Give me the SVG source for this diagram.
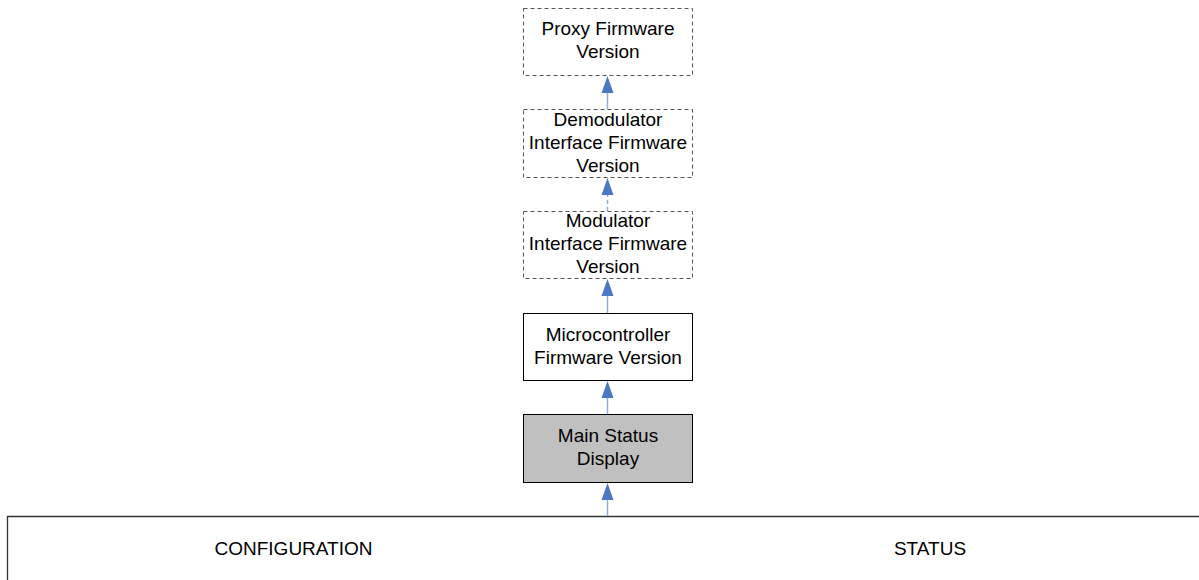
<svg xmlns="http://www.w3.org/2000/svg" width="1199" height="580" viewBox="0 0 1199 580">
<style>
.box{fill:#fff;stroke:#000;stroke-width:1}
.dash{stroke:#555;stroke-dasharray:4 3}
.grey{fill:#c0c0c0}
.t{font-family:"Liberation Sans",Arial,sans-serif;font-size:19px;fill:#000;text-anchor:middle}
.c{stroke:#8eaee0;stroke-width:1.5;fill:none}
.cd{stroke-dasharray:4 3}
.ah{fill:#4a78c4}
</style>
<rect width="1199" height="580" fill="#fff"/>
<g id="frame">
<path d="M7.5,580 V516.5 H1199" fill="none" stroke="#333" stroke-width="1.3"/>
<text class="t" x="293.5" y="555">CONFIGURATION</text>
<text class="t" x="930" y="555">STATUS</text>
</g>
<g id="connectors">
<line class="c" x1="607.5" y1="516" x2="607.5" y2="496"/>
<polygon class="ah" points="607.5,483 601.5,500 613.5,500"/>
<line class="c" x1="607.5" y1="414" x2="607.5" y2="395"/>
<polygon class="ah" points="607.5,381 601.5,398 613.5,398"/>
<line class="c" x1="607.5" y1="313" x2="607.5" y2="293"/>
<polygon class="ah" points="607.5,279 601.5,296 613.5,296"/>
<line class="c cd" x1="607.5" y1="211" x2="607.5" y2="192"/>
<polygon class="ah" points="607.5,178 601.5,195 613.5,195"/>
<line class="c" x1="607.5" y1="109" x2="607.5" y2="90"/>
<polygon class="ah" points="607.5,76 601.5,93 613.5,93"/>
</g>
<g id="proxy">
<rect class="box dash" x="523.5" y="8.5" width="169" height="67"/>
<text class="t" x="608" y="35">Proxy Firmware</text>
<text class="t" x="608" y="58">Version</text>
</g>
<g id="demod">
<rect class="box dash" x="523.5" y="109.5" width="169" height="68"/>
<text class="t" x="608" y="126">Demodulator</text>
<text class="t" x="608" y="149">Interface Firmware</text>
<text class="t" x="608" y="172">Version</text>
</g>
<g id="mod">
<rect class="box dash" x="523.5" y="211.5" width="169" height="67"/>
<text class="t" x="608" y="227">Modulator</text>
<text class="t" x="608" y="250">Interface Firmware</text>
<text class="t" x="608" y="273">Version</text>
</g>
<g id="micro">
<rect class="box" x="523.5" y="313.5" width="169" height="67"/>
<text class="t" x="608" y="341">Microcontroller</text>
<text class="t" x="608" y="364">Firmware Version</text>
</g>
<g id="main">
<rect class="box grey" x="523.5" y="414.5" width="169" height="68"/>
<text class="t" x="608" y="442">Main Status</text>
<text class="t" x="608" y="465">Display</text>
</g>
</svg>
